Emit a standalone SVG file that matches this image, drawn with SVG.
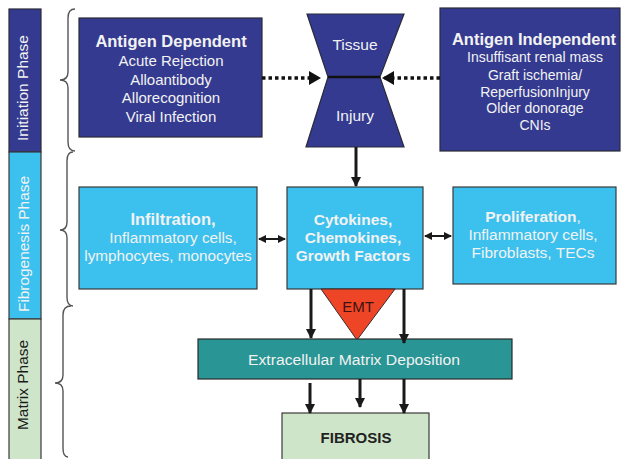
<svg xmlns="http://www.w3.org/2000/svg" width="621" height="459" viewBox="0 0 621 459">
<style>
text{font-family:"Liberation Sans",Arial,sans-serif;}
.dk{fill:#343a8f;stroke:#2a2a3a;stroke-width:1.2;}
.lb{fill:#3cc1ee;stroke:#3a3a3a;stroke-width:1.2;}
.tl{fill:#299594;stroke:#2a2a2a;stroke-width:1.2;}
.gr{fill:#cfe5c9;stroke:#3a3a3a;stroke-width:1.2;}
.w{fill:#f2f2f2;text-anchor:middle;}
.b{font-weight:bold;}
.br{fill:none;stroke:#555;stroke-width:1.4;}
.arr{stroke:#1a1a1a;stroke-width:3;fill:none;}
.dot{stroke:#111;stroke-width:3.5;stroke-dasharray:3.5 3;fill:none;}
.dbl{stroke:#1a1a1a;stroke-width:2;fill:none;}
</style>
<defs>
<marker id="ah" markerWidth="10" markerHeight="10" refX="9" refY="5" orient="auto" markerUnits="userSpaceOnUse"><path d="M0,0 L10,5 L0,10 Z" fill="#1a1a1a"/></marker>
<marker id="ahd" markerWidth="12" markerHeight="14" refX="11" refY="7" orient="auto" markerUnits="userSpaceOnUse"><path d="M0,0 L12,7 L0,14 Z" fill="#111"/></marker>
<marker id="ahs" markerWidth="8" markerHeight="8" refX="7" refY="4" orient="auto-start-reverse" markerUnits="userSpaceOnUse"><path d="M0,0 L8,4 L0,8 Z" fill="#1a1a1a"/></marker>
</defs>

<g id="phases">
<rect x="9" y="9" width="32" height="143" class="dk"/>
<rect x="9" y="152" width="32" height="167" class="lb"/>
<rect x="9" y="319" width="32" height="141" class="gr"/>
<text x="28" y="88" transform="rotate(-90 28 88)" class="w" font-size="14" textLength="106" lengthAdjust="spacingAndGlyphs">Initiation Phase</text>
<text x="29" y="244" transform="rotate(-90 29 244)" class="w" font-size="14.5" textLength="136" lengthAdjust="spacingAndGlyphs">Fibrogenesis Phase</text>
<text x="28" y="385" transform="rotate(-90 28 385)" text-anchor="middle" fill="#1a1a1a" font-size="14" textLength="90" lengthAdjust="spacingAndGlyphs">Matrix Phase</text>
</g>

<g id="braces">
<path class="br" d="M75,9 Q68,9 68,18 L68,72 Q68,80 60,80 Q68,80 68,88 L68,142 Q68,151 75,151"/>
<path class="br" d="M73,152 Q67,152 67,161 L67,222 Q67,230 60,230 Q67,230 67,238 L67,297 Q67,306 73,306"/>
<path class="br" d="M71,306 Q63,306 63,315 L63,375 Q63,383 55,383 Q63,383 63,391 L63,448 Q63,457 68,457"/>
</g>

<g id="antigen-dependent">
<rect x="79" y="18" width="183" height="119" class="dk"/>
<text x="171" y="47" class="w b" font-size="16.5">Antigen Dependent</text>
<text x="171" y="66" class="w" font-size="15">Acute Rejection</text>
<text x="171" y="84.5" class="w" font-size="15">Alloantibody</text>
<text x="171" y="103" class="w" font-size="15">Allorecognition</text>
<text x="171" y="121.5" class="w" font-size="15">Viral Infection</text>
</g>

<g id="tissue-injury">
<polygon points="307,14 404,14 380,77 328,77" class="dk"/>
<polygon points="328,77 380,77 404,147 306,147" class="dk"/>
<line x1="328" y1="77" x2="380" y2="77" stroke="#111" stroke-width="2.5"/>
<text x="355" y="50" class="w" font-size="15.5">Tissue</text>
<text x="355" y="121" class="w" font-size="15.5">Injury</text>
</g>

<g id="antigen-independent">
<rect x="440" y="8" width="180" height="143" class="dk"/>
<text x="534" y="45" class="w b" font-size="16.5">Antigen Independent</text>
<text x="535" y="62" class="w" font-size="14">Insuffisant renal mass</text>
<text x="535" y="80" class="w" font-size="14">Graft ischemia/</text>
<text x="535" y="97" class="w" font-size="14">ReperfusionInjury</text>
<text x="535" y="113" class="w" font-size="14">Older donorage</text>
<text x="535" y="130" class="w" font-size="14">CNIs</text>
</g>

<g id="infiltration">
<rect x="79" y="187" width="178" height="102" class="lb"/>
<text x="173" y="225" class="w b" font-size="16.5">Infiltration,</text>
<text x="173" y="243" class="w" font-size="15.3">Inflammatory cells,</text>
<text x="168" y="261" class="w" font-size="15.3">lymphocytes, monocytes</text>
</g>

<g id="cytokines">
<rect x="287" y="187" width="136" height="102" class="lb"/>
<text x="353" y="225" class="w b" font-size="15.5">Cytokines,</text>
<text x="353" y="243" class="w b" font-size="15.5">Chemokines,</text>
<text x="353" y="261" class="w b" font-size="15.5">Growth Factors</text>
</g>

<g id="proliferation">
<rect x="453" y="187" width="163" height="97" class="lb"/>
<text x="533" y="222" class="w" font-size="15.5"><tspan class="b">Proliferation</tspan>,</text>
<text x="533" y="240" class="w" font-size="15.5">Inflammatory cells,</text>
<text x="533" y="258" class="w" font-size="15.5">Fibroblasts, TECs</text>
</g>

<g id="emt">
<polygon points="321,289 395,289 357,340" fill="#ef4527" stroke="#3a2a2a" stroke-width="1"/>
<text x="358" y="312" text-anchor="middle" fill="#3a1410" font-size="15">EMT</text>
</g>

<g id="ecm">
<rect x="198" y="339" width="314" height="40" class="tl"/>
<text x="354" y="365" class="w" font-size="15.5" fill="#e6f2f2" textLength="212" lengthAdjust="spacingAndGlyphs">Extracellular Matrix Deposition</text>
</g>

<g id="fibrosis">
<rect x="282" y="413" width="147" height="50" class="gr"/>
<text x="356" y="443" text-anchor="middle" fill="#222" font-size="15" class="b">FIBROSIS</text>
</g>

<g id="connectors">
<line x1="262" y1="78" x2="320" y2="78" class="dot" marker-end="url(#ahd)"/>
<line x1="440" y1="78" x2="383" y2="78" class="dot" marker-end="url(#ahd)"/>
<line x1="356" y1="147" x2="356" y2="186" class="arr" marker-end="url(#ah)"/>
<line x1="259" y1="239" x2="285" y2="239" class="dbl" marker-start="url(#ahs)" marker-end="url(#ahs)"/>
<line x1="425" y1="236" x2="451" y2="236" class="dbl" marker-start="url(#ahs)" marker-end="url(#ahs)"/>
<line x1="311" y1="289" x2="311" y2="338" class="arr" marker-end="url(#ah)"/>
<line x1="404" y1="289" x2="404" y2="343" class="arr" marker-end="url(#ah)"/>
<line x1="310" y1="383" x2="310" y2="413" class="arr" marker-end="url(#ah)"/>
<line x1="360" y1="379" x2="360" y2="407" class="arr" marker-end="url(#ah)"/>
<line x1="404" y1="379" x2="404" y2="413" class="arr" marker-end="url(#ah)"/>
</g>
</svg>
